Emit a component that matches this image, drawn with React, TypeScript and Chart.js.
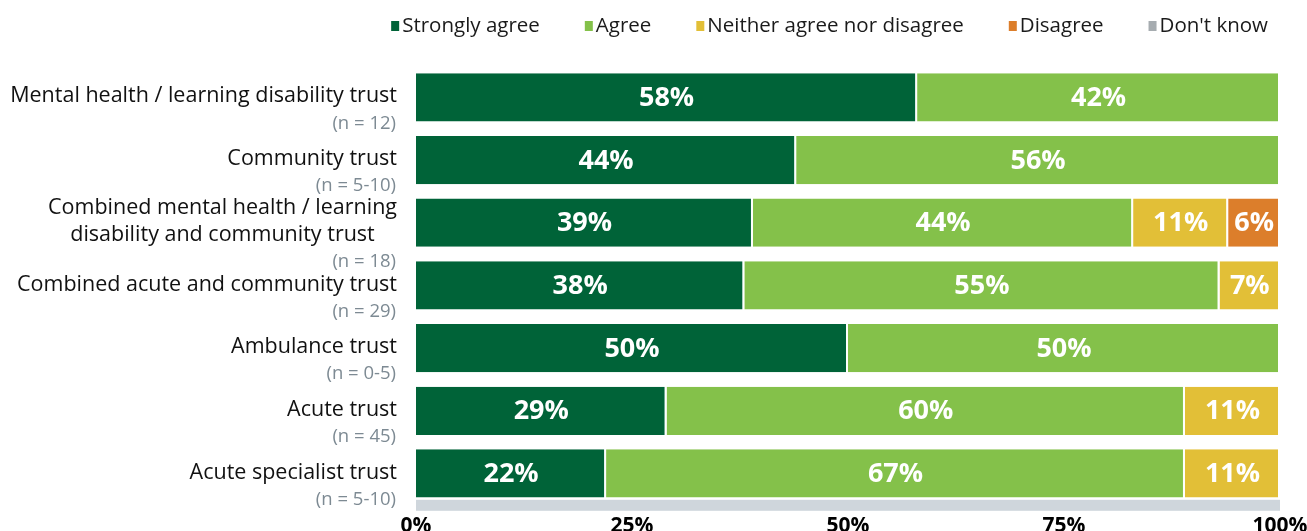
import { useEffect, useRef } from 'react';
import { Chart, registerables } from 'chart.js';

Chart.register(...registerables);

const categories: string[][] = [
  ['Mental health / learning disability trust'],
  ['Community trust'],
  ['Combined mental health / learning', 'disability and community trust'],
  ['Combined acute and community trust'],
  ['Ambulance trust'],
  ['Acute trust'],
  ['Acute specialist trust'],
];
const sampleSizes = ['(n = 12)', '(n = 5-10)', '(n = 18)', '(n = 29)', '(n = 0-5)', '(n = 45)', '(n = 5-10)'];

const seriesNames = ['Strongly agree', 'Agree', 'Neither agree nor disagree', 'Disagree', "Don't know"];
const stronglyAgree = [58, 44, 39, 38, 50, 29, 22];
const agree = [42, 56, 44, 55, 50, 60, 67];
const neither = [0, 0, 11, 7, 0, 11, 11];
const disagree = [0, 0, 6, 0, 0, 0, 0];
const dontKnow = [0, 0, 0, 0, 0, 0, 0];
const seriesColors = ['#006338', '#84c14a', '#e2bf37', '#dc7e2b', '#a6acb0'];
const xTickValues = [0, 25, 50, 75, 100];

const FONT = "'Open Sans', 'Noto Sans', sans-serif";

const axisBand = {
  id: 'axisBand',
  beforeDatasetsDraw(chart: any) {
    const { ctx, chartArea } = chart;
    ctx.save();
    ctx.fillStyle = '#cfd6dc';
    ctx.fillRect(chartArea.left, chartArea.bottom - 5, chartArea.right - chartArea.left, 11);
    ctx.restore();
  },
};

const segmentLabels = {
  id: 'segmentLabels',
  afterDatasetsDraw(chart: any) {
    const ctx = chart.ctx;
    ctx.save();
    ctx.font = `bold 27px ${FONT}`;
    ctx.fillStyle = '#ffffff';
    ctx.textAlign = 'center';
    ctx.textBaseline = 'middle';
    chart.data.datasets.forEach((ds: any, di: number) => {
      const meta = chart.getDatasetMeta(di);
      meta.data.forEach((el: any, i: number) => {
        const v = ds.data[i];
        if (!v) return;
        const cx = (el.x + el.base) / 2;
        ctx.fillText(`${v}%`, cx, el.y + 1);
      });
    });
    ctx.restore();
  },
};

const categoryLabels = {
  id: 'categoryLabels',
  afterDraw(chart: any) {
    const ctx = chart.ctx;
    const yScale = chart.scales.y;
    const right = chart.chartArea.left - 19;
    const lineH = 27;
    ctx.save();
    ctx.textBaseline = 'middle';
    categories.forEach((lines, i) => {
      const cy = yScale.getPixelForValue(i);
      ctx.font = `21.5px ${FONT}`;
      ctx.fillStyle = '#111111';
      const widths = lines.map((l) => ctx.measureText(l).width);
      const blockW = Math.max(...widths);
      const firstY = cy - ((lines.length - 1) * lineH) / 2 - 1;
      ctx.textAlign = 'center';
      lines.forEach((l, li) => {
        ctx.fillText(l, right - blockW / 2, firstY + li * lineH);
      });
      const lastY = firstY + (lines.length - 1) * lineH;
      ctx.font = `18.5px ${FONT}`;
      ctx.fillStyle = '#7d8a93';
      ctx.textAlign = 'right';
      ctx.fillText(sampleSizes[i], right - 1, lastY + 27);
    });
    ctx.restore();
  },
};

const topLegend = {
  id: 'topLegend',
  afterDraw(chart: any) {
    const ctx = chart.ctx;
    const rightEnd = 1268;
    const cy = 26;
    const box = 8;
    const boxGap = 3;
    const itemGap = 45;
    ctx.save();
    ctx.font = `20.5px ${FONT}`;
    ctx.textBaseline = 'middle';
    ctx.textAlign = 'left';
    const widths = seriesNames.map((n) => ctx.measureText(n).width);
    const total = widths.reduce((a, w) => a + box + boxGap + w, 0) + itemGap * (seriesNames.length - 1);
    let x = rightEnd - total;
    seriesNames.forEach((n, k) => {
      ctx.fillStyle = seriesColors[k];
      ctx.fillRect(x, cy - 5, box, 10);
      ctx.fillStyle = '#1a1a1a';
      ctx.fillText(n, x + box + boxGap, cy);
      x += box + boxGap + widths[k] + itemGap;
    });
    ctx.restore();
  },
};

export default function App() {
  const ref = useRef<HTMLCanvasElement | null>(null);
  useEffect(() => {
    document.body.style.margin = '0';
    document.body.style.overflow = 'hidden';
    const values = [stronglyAgree, agree, neither, disagree, dontKnow];
    const chart = new Chart(ref.current as HTMLCanvasElement, {
      type: 'bar',
      data: {
        labels: categories.map((c) => c.join(' ')),
        datasets: seriesNames.map((name, k) => ({
          label: name,
          data: values[k],
          backgroundColor: seriesColors[k],
          borderColor: '#ffffff',
          borderWidth: { left: 0, right: 2, top: 0, bottom: 0 },
          borderSkipped: false,
          barPercentage: 0.77,
          categoryPercentage: 1,
        })),
      },
      options: {
        indexAxis: 'y',
        responsive: false,
        animation: false,
        layout: { padding: { left: 0, right: 27, top: 66, bottom: 0 } },
        plugins: {
          tooltip: { enabled: false },
          legend: { display: false },
        },
        scales: {
          x: {
            stacked: true,
            min: 0,
            max: 100,
            afterBuildTicks: (axis: any) => {
              axis.ticks = xTickValues.map((v) => ({ value: v }));
            },
            afterFit: (axis: any) => {
              axis.paddingRight = 0;
              axis.paddingLeft = 0;
            },
            ticks: {
              callback: (v: any) => `${v}%`,
              color: '#000000',
              font: { family: FONT, size: 21, weight: 'bold' },
              padding: 9,
              maxRotation: 0,
            },
            grid: { display: false, drawTicks: false },
            border: { display: true, color: 'rgba(0,0,0,0)', width: 11 },
          },
          y: {
            stacked: true,
            afterFit: (axis: any) => {
              axis.width = 416;
            },
            ticks: { display: false },
            grid: { display: false, drawTicks: false },
            border: { display: false },
          },
        },
      },
      plugins: [axisBand, segmentLabels, categoryLabels, topLegend],
    });
    return () => chart.destroy();
  }, []);
  return (
    <div style={{ width: 1307, height: 531, overflow: 'hidden' }}>
      <canvas ref={ref} width={1307} height={548} style={{ display: 'block' }} />
    </div>
  );
}
